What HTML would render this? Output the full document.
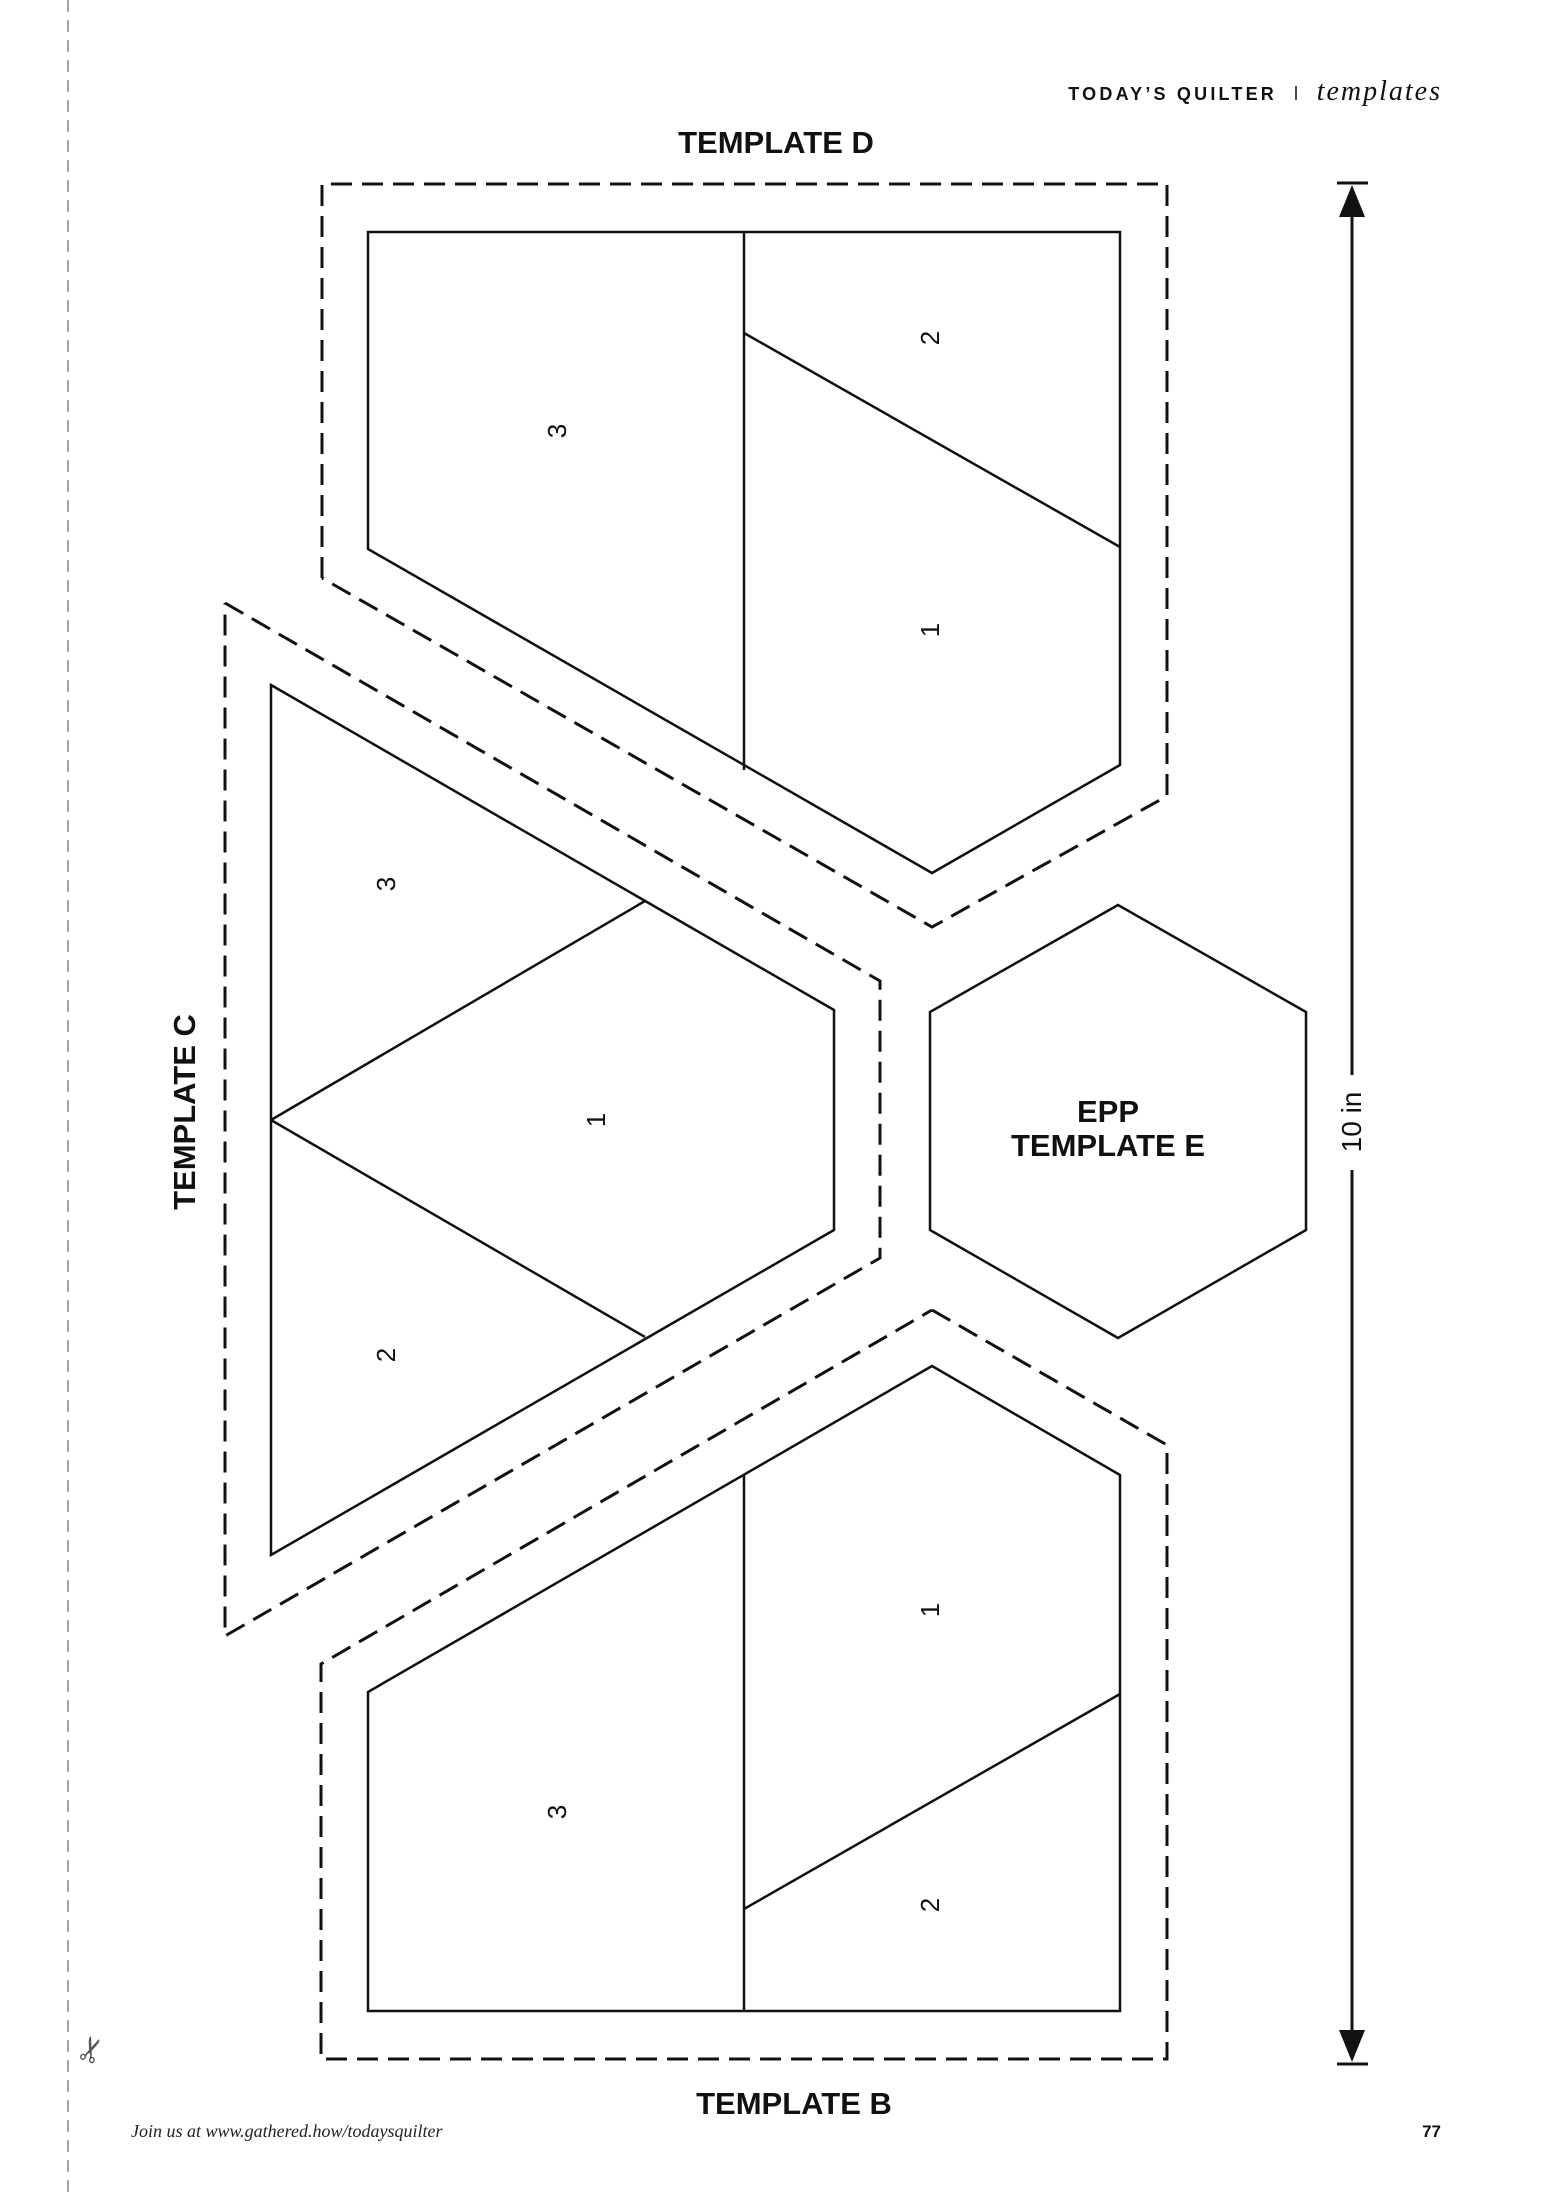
<!DOCTYPE html>
<html><head><meta charset="utf-8"><style>
html,body{margin:0;padding:0;background:#fff;}
svg{display:block;}
</style></head><body>
<svg width="1551" height="2193" viewBox="0 0 1551 2193" xmlns="http://www.w3.org/2000/svg">
<rect width="1551" height="2193" fill="#fff"/>
<line x1="68" y1="0" x2="68" y2="2193" stroke="#888" stroke-width="1.5" stroke-dasharray="12 8"/>
<text x="80" y="2068" font-family="DejaVu Sans, sans-serif" font-size="34" fill="#555" transform="rotate(-70 88 2055)">✂</text>

<text x="1277" y="100" text-anchor="end" font-family="Liberation Sans, sans-serif" font-weight="bold" font-size="18" letter-spacing="3.2" fill="#111">TODAY’S QUILTER</text>
<line x1="1296" y1="86" x2="1296" y2="100" stroke="#111" stroke-width="1.5"/>
<text x="1442" y="100" text-anchor="end" font-family="Liberation Serif, serif" font-style="italic" font-size="28" letter-spacing="2" fill="#111">templates</text>

<g font-family="Liberation Sans, sans-serif" font-weight="bold" font-size="31" fill="#111" text-anchor="middle">
<text x="776" y="153">TEMPLATE D</text>
<text x="794" y="2114">TEMPLATE B</text>
<text x="195" y="1112" transform="rotate(-90 195 1112)">TEMPLATE C</text>
<text x="1108" y="1122">EPP</text>
<text x="1108" y="1156">TEMPLATE E</text>
</g>

<g fill="none" stroke="#111" stroke-width="3" stroke-dasharray="21 10">
<polyline points="322,578 322,184 1167,184 1167,796 932,927 322,578"/>
<polyline points="225,603 880,981 880,1258 225,1636 225,603"/>
<polyline points="932,1310 1167,1445 1167,2059 321,2059 321,1664 932,1310"/>
</g>

<g fill="none" stroke="#111" stroke-width="2.5" stroke-linejoin="miter">
<polygon points="368,232 1120,232 1120,765 932,873 368,549"/>
<line x1="744" y1="232" x2="744" y2="770"/>
<line x1="744" y1="333" x2="1120" y2="547"/>

<polygon points="271,685 834,1010 834,1230 271,1555"/>
<line x1="271" y1="1120" x2="645" y2="901"/>
<line x1="271" y1="1120" x2="645" y2="1337"/>

<polygon points="1118,905 1306,1012 1306,1230 1118,1338 930,1230 930,1012"/>

<polygon points="932,1366 1120,1475 1120,2011 368,2011 368,1692"/>
<line x1="744" y1="1474" x2="744" y2="2011"/>
<line x1="744" y1="1909" x2="1120" y2="1694"/>
</g>

<g font-family="Liberation Sans, sans-serif" font-size="26" fill="#111" text-anchor="middle">
<text x="566" y="431" transform="rotate(-90 566 431)">3</text>
<text x="939" y="338" transform="rotate(-90 939 338)">2</text>
<text x="939" y="630" transform="rotate(-90 939 630)">1</text>
<text x="395" y="884" transform="rotate(-90 395 884)">3</text>
<text x="605" y="1120" transform="rotate(-90 605 1120)">1</text>
<text x="395" y="1355" transform="rotate(-90 395 1355)">2</text>
<text x="939" y="1610" transform="rotate(-90 939 1610)">1</text>
<text x="566" y="1812" transform="rotate(-90 566 1812)">3</text>
<text x="939" y="1905" transform="rotate(-90 939 1905)">2</text>
</g>

<g stroke="#111" stroke-width="3">
<line x1="1337" y1="183" x2="1368" y2="183"/>
<line x1="1337" y1="2064" x2="1368" y2="2064"/>
<line x1="1352" y1="210" x2="1352" y2="1075"/>
<line x1="1352" y1="1170" x2="1352" y2="2040"/>
</g>
<polygon points="1352,185 1339,217 1365,217" fill="#111"/>
<polygon points="1352,2062 1339,2030 1365,2030" fill="#111"/>
<text x="1361" y="1122" text-anchor="middle" font-family="Liberation Sans, sans-serif" font-size="28" fill="#111" transform="rotate(-90 1361 1122)">10 in</text>

<text x="131" y="2137" font-family="Liberation Serif, serif" font-style="italic" font-size="18" fill="#222">Join us at www.gathered.how/todaysquilter</text>
<text x="1441" y="2137" text-anchor="end" font-family="Liberation Sans, sans-serif" font-weight="bold" font-size="17" fill="#111">77</text>
</svg>
</body></html>
